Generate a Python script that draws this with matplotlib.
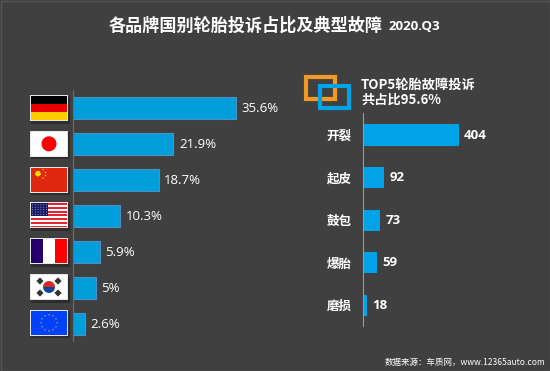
import matplotlib
matplotlib.use('Agg')
import matplotlib.pyplot as plt
from matplotlib.patches import Rectangle, Circle, Wedge, RegularPolygon

plt.rcParams['font.family'] = ['Noto Sans CJK SC', 'DejaVu Sans']

# left chart
share_flags = ['de', 'jp', 'cn', 'us', 'fr', 'kr', 'eu']
share_values = [35.6, 21.9, 18.7, 10.3, 5.9, 5, 2.6]
share_labels = ['35.6%', '21.9%', '18.7%', '10.3%', '5.9%', '5%', '2.6%']

# right chart
fault_names = ['开裂', '起皮', '鼓包', '爆胎', '磨损']
fault_values = [404, 92, 73, 59, 18]

W, H = 550, 371
BG = '#404040'
BAR = '#009fdc'


def px_axes(fig, x0, y0, x1, y1):
    # axes placed by pixel box, y measured from the top
    return fig.add_axes([x0 / W, 1 - y1 / H, (x1 - x0) / W, (y1 - y0) / H])


fig = plt.figure(figsize=(5.5, 3.71), dpi=100, facecolor=BG)

# overlay in pixel coords for title, logo and flags
bg = fig.add_axes([0, 0, 1, 1])
bg.set_xlim(0, W)
bg.set_ylim(H, 0)
bg.axis('off')
bg.add_patch(Rectangle((0.5, 0.5), W - 1, H - 1, fill=False, ec='#555555', lw=1))

# left bars
ax = px_axes(fig, 73, 90, 273, 341)
ax.barh(range(len(share_values)), share_values, height=0.6, color=BAR, edgecolor='#4a90c4', linewidth=0.8)
ax.set_ylim(6.47, -0.5)
ax.set_xlim(0, 200 / 4.58)
ax.patch.set_alpha(0)
for s in ['top', 'right', 'bottom']:
    ax.spines[s].set_visible(False)
ax.spines['left'].set_color('#6e6e6e')
ax.set_xticks([])
ax.set_yticks([])
for i, v in enumerate(share_values):
    ax.annotate(share_labels[i], (v, i), xytext=(4, 0), textcoords='offset points', color='white',
                fontsize=9.5, va='center', family=['Open Sans', 'DejaVu Sans'])

# right bars
ax2 = px_axes(fig, 362.5, 113, 540, 326)
ax2.barh(range(len(fault_values)), fault_values, height=0.5, color='#00a3e8')
ax2.set_ylim(4.49, -0.52)
ax2.set_xlim(0, 177.5 / 0.238)
ax2.patch.set_alpha(0)
for s in ['top', 'right', 'bottom']:
    ax2.spines[s].set_visible(False)
ax2.spines['left'].set_color('#9a9a9a')
ax2.set_xticks([])
ax2.set_yticks(range(len(fault_names)))
ax2.set_yticklabels(fault_names, color='white', fontsize=9, fontweight='bold')
ax2.tick_params(axis='y', length=0, pad=8)
for i, v in enumerate(fault_values):
    ax2.annotate(str(v), (v, i), xytext=(4, 0), textcoords='offset points', color='white',
                 fontsize=9.5, fontweight='bold', va='center', family=['Open Sans', 'DejaVu Sans'])

# titles
bg.text(109, 26, '各品牌国别轮胎投诉占比及典型故障', color='white', fontsize=12.3, fontweight='bold', va='center')
bg.text(389, 27, '2020.Q3', color='white', fontsize=9.6, fontweight='bold', va='center',
        family=['Open Sans', 'DejaVu Sans'])
bg.text(361, 85, 'TOP5轮胎故障投诉', color='white', fontsize=9.5, fontweight='bold', va='center')
bg.text(361, 100, '共占比95.6%', color='white', fontsize=9.5, fontweight='bold', va='center')
bg.text(545, 362.5, '数据来源：车质网，www.12365auto.com', color='white', fontsize=6.1, va='center', ha='right')

# logo squares
bg.add_patch(Rectangle((305.5, 76.5), 29, 22, fill=False, ec='#f39a26', lw=3))
bg.add_patch(Rectangle((319.5, 85.5), 29, 22, fill=False, ec='#00a3e8', lw=3))


# flags, one small function each
def flag_box(fx, fy, fw, fh):
    bg.add_patch(Rectangle((fx + 1, fy + 1.5), fw + 1, fh + 1, fc='#262626', ec='none', alpha=0.7))


def rect(x, y, w, h, c):
    bg.add_patch(Rectangle((x, y), w, h, fc=c, ec='none'))


FX, FW, FH = 31, 36, 24
for i, code in enumerate(share_flags):
    cy = 108 + i * 35.8
    fy = cy - FH / 2
    flag_box(FX - 1, fy - 1, FW + 2, FH + 2)
    rect(FX - 1, fy - 1, FW + 2, FH + 2, '#e6e6e6')
    if code == 'de':
        rect(FX, fy, FW, 8, '#000000')
        rect(FX, fy + 8, FW, 8, '#e80000')
        rect(FX, fy + 16, FW, 8, '#ffce00')
    elif code == 'jp':
        rect(FX, fy, FW, FH, '#ffffff')
        bg.add_patch(Circle((FX + 18, cy), 7.5, fc='#ff0000', ec='none'))
    elif code == 'cn':
        rect(FX, fy, FW, FH, '#de2910')
        bg.add_patch(RegularPolygon((FX + 7, cy - 6), 5, radius=3.2, fc='#ffde00', ec='none'))
        for dx, dy in [(12, -10), (14.5, -7), (14.5, -4), (12, -1.5)]:
            bg.add_patch(Circle((FX + dx, cy + dy), 0.7, fc='#ffde00', ec='none'))
    elif code == 'us':
        rect(FX, fy, FW, FH, '#ffffff')
        for k in range(7):
            rect(FX, fy + k * 3.69, FW, 1.85, '#e8212e')
        rect(FX, fy, 17, 12.5, '#1a1a66')
        for r in range(5):
            for c in range(6):
                bg.add_patch(Circle((FX + 1.5 + c * 2.8, fy + 1.5 + r * 2.4), 0.45, fc='#c8c8e0', ec='none'))
    elif code == 'fr':
        rect(FX, fy, 12, FH, '#23006b')
        rect(FX + 12, fy, 12, FH, '#ffffff')
        rect(FX + 24, fy, 12, FH, '#ff0000')
    elif code == 'kr':
        rect(FX, fy, FW, FH, '#ffffff')
        bg.add_patch(Wedge((FX + 18, cy), 6, 180, 360, fc='#d8291d', ec='none'))
        bg.add_patch(Wedge((FX + 18, cy), 6, 0, 180, fc='#10469a', ec='none'))
        for dx, dy in [(-9, -6), (9, -6), (-9, 6), (9, 6)]:
            bg.add_patch(RegularPolygon((FX + 18 + dx, cy + dy), 4, radius=3.6, fc='#333333', ec='none'))
    elif code == 'eu':
        rect(FX, fy, FW, FH, '#0040ff')
        pos = [(0, -8), (4, -7), (7, -4), (8, 0), (7, 4), (4, 7), (0, 8), (-4, 7), (-7, 4), (-8, 0), (-7, -4), (-4, -7)]
        for dx, dy in pos:
            bg.add_patch(Circle((FX + 18 + dx, cy + dy), 0.8, fc='#9a9a50', ec='none'))

fig.savefig('out.png', dpi=100, facecolor=BG)
